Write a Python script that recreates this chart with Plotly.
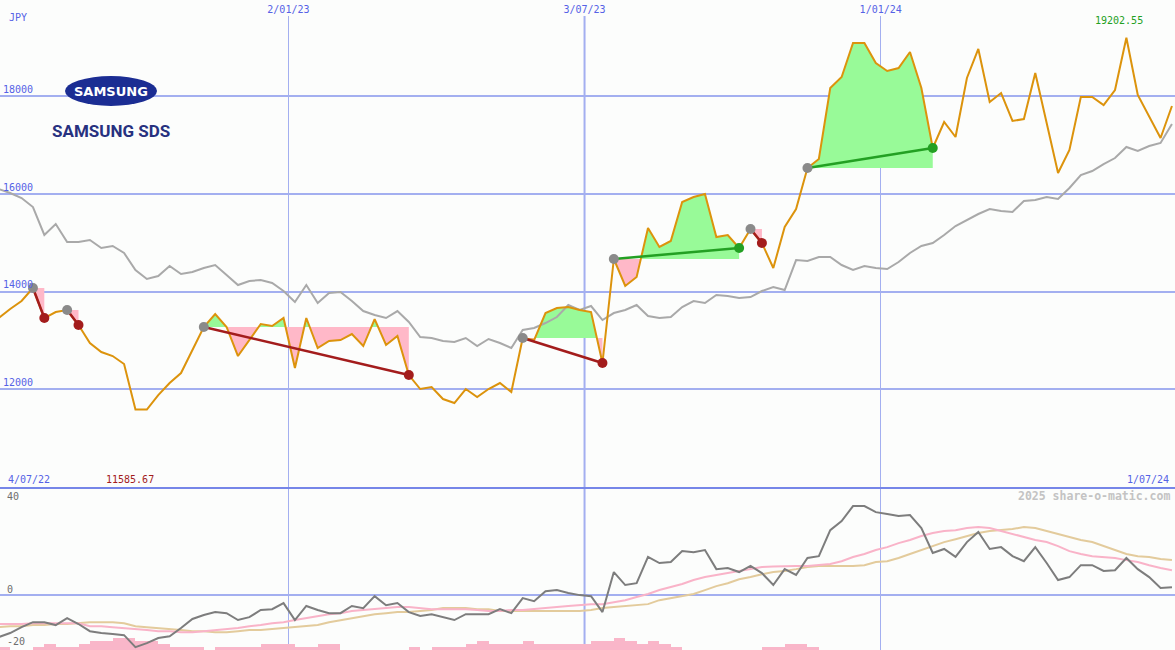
import pandas as pd
import plotly.graph_objects as go

W, H = 1175, 650

# ---------------- data ----------------
dates = pd.date_range("2022-07-08", periods=104, freq="7D")

price = [
    13461, 13645, 13809, 14076, 13461, 13584, 13625, 13318, 12949, 12764,
    12682, 12518, 11585.67, 11585.67, 11883, 12129, 12334, 12805, 13277, 13543,
    13277, 12682, 13010, 13338, 13297, 13461, 12436, 13461, 12846, 12990,
    13010, 13133, 12887, 13440, 12908, 13092, 12293, 12006, 12047, 11801,
    11719, 12006, 11842, 12006, 12129, 11945, 13051, 13010, 13563, 13666,
    13686, 13625, 13584, 12539, 14670, 14117, 14301, 15305, 14916, 15039,
    15838, 15940, 16002, 15121, 15162, 14895, 15285, 14998, 14485, 15326,
    15694, 16534, 16719, 18174, 18399, 19096, 19096, 18686, 18522, 18583,
    18911, 18174, 16944, 17477, 17170, 18379, 18973, 17887, 18071, 17498,
    17538, 18481, 17456, 16432, 16903, 17989, 17989, 17825, 18133, 19202.55,
    18030, 17580, 17149, 17805,
]

benchmark = [
    16104, 16022, 15920, 15735, 15162, 15387, 15018, 15018, 15059, 14895,
    14936, 14793, 14444, 14260, 14322, 14526, 14362, 14403, 14485, 14547,
    14342, 14137, 14219, 14240, 14178, 14014, 13789, 14137, 13768, 13973,
    13994, 13809, 13604, 13522, 13461, 13604, 13379, 13072, 13051, 12990,
    12969, 13051, 12887, 13031, 12949, 12846, 13215, 13256, 13358, 13481,
    13727, 13625, 13707, 13420, 13563, 13625, 13727, 13502, 13461, 13481,
    13686, 13809, 13768, 13932, 13912, 13871, 13891, 14014, 14096, 14035,
    14649, 14629, 14711, 14711, 14547, 14444, 14526, 14485, 14465, 14608,
    14793, 14936, 14998, 15162, 15346, 15469, 15592, 15694, 15653, 15633,
    15858, 15879, 15940, 15899, 16125, 16391, 16473, 16616, 16739, 16965,
    16883, 16985, 17047, 17436,
]

momentum = [
    -16.0, -14.5, -12.3, -10.4, -10.4, -11.5, -8.9, -11.1, -13.8, -14.5,
    -14.9, -15.3, -19.8, -18.3, -16.4, -15.7, -12.6, -9.2, -7.7, -6.6,
    -7.0, -9.6, -8.5, -5.8, -5.5, -3.2, -9.6, -4.3, -5.8, -7.0,
    -7.0, -4.3, -5.1, -0.6, -4.0, -3.2, -6.6, -8.1, -7.4, -8.5,
    -9.6, -7.4, -7.4, -7.4, -5.5, -7.0, -1.3, -2.5, 1.3, 1.7,
    0.6, -0.2, -0.6, -6.6, 8.5, 3.6, 4.3, 14.2, 11.9, 12.3,
    16.4, 16.0, 16.8, 9.6, 10.0, 8.5, 10.8, 8.1, 3.6, 9.6,
    7.4, 13.8, 14.5, 24.3, 27.7, 33.4, 33.4, 31.1, 30.4, 29.6,
    30.0, 25.1, 15.7, 17.2, 14.2, 19.8, 23.6, 17.2, 17.9, 14.5,
    12.6, 17.9, 11.9, 5.5, 6.6, 11.1, 11.1, 8.9, 9.2, 13.8,
    9.6, 6.6, 2.5, 2.8,
]

avg_fast = [
    -11.1, -11.1, -11.1, -10.8, -10.8, -10.8, -10.8, -10.8, -11.9, -11.9,
    -12.3, -12.6, -13.0, -13.4, -13.8, -13.8, -14.2, -14.2, -13.8, -13.4,
    -13.0, -12.6, -11.9, -11.5, -10.8, -10.4, -9.6, -8.9, -8.1, -7.4,
    -7.0, -6.2, -5.8, -5.5, -5.1, -4.7, -4.7, -5.1, -5.5, -5.5,
    -5.5, -5.5, -5.8, -6.2, -6.2, -5.8, -5.8, -5.5, -5.1, -4.7,
    -4.3, -4.0, -3.6, -3.6, -2.8, -2.1, -0.9, 0.2, 1.7, 2.8,
    4.0, 5.5, 6.6, 7.4, 8.1, 8.9, 9.6, 10.4, 10.6, 10.8,
    10.8, 10.8, 11.1, 11.5, 12.6, 14.2, 15.3, 16.8, 17.9, 19.4,
    20.6, 22.1, 23.2, 24.0, 24.3, 25.1, 25.5, 25.1, 24.0, 22.8,
    21.7, 20.6, 19.8, 18.3, 16.4, 15.3, 14.5, 14.2, 13.8, 13.0,
    12.3, 11.1, 10.0, 9.2,
]

avg_slow = [
    -12.3, -11.9, -11.9, -11.5, -11.5, -11.1, -11.1, -10.8, -10.4, -10.4,
    -10.4, -10.8, -11.9, -12.3, -12.6, -13.0, -13.4, -13.8, -13.8, -14.2,
    -14.2, -13.8, -13.4, -13.4, -13.0, -12.6, -12.3, -11.9, -11.5, -10.4,
    -9.6, -8.9, -8.1, -7.4, -7.0, -6.6, -6.6, -6.2, -5.8, -5.1,
    -5.1, -5.1, -5.5, -5.5, -6.2, -6.2, -6.2, -6.2, -6.2, -6.2,
    -6.2, -6.2, -5.8, -5.1, -4.7, -4.3, -4.0, -3.6, -2.1, -1.3,
    -0.6, 0.2, 1.7, 3.2, 4.3, 5.8, 6.6, 7.7, 8.5, 8.9,
    9.6, 10.4, 10.8, 10.8, 10.8, 10.8, 11.1, 12.3, 12.6, 13.8,
    15.3, 16.8, 18.3, 19.8, 20.9, 22.1, 23.2, 24.0, 24.3, 24.7,
    25.5, 25.1, 24.0, 22.8, 21.7, 20.6, 19.8, 18.3, 16.8, 15.3,
    14.5, 14.2, 13.4, 13.0,
]

volume_bars = [
    1.1, 0, 0, 1.1, 2.3, 1.1, 1.1, 2.3, 3.4, 3.4,
    4.5, 4.5, 3.4, 3.4, 2.3, 1.1, 1.1, 1.1, 0, 1.1,
    1.1, 1.1, 1.1, 2.3, 2.3, 2.3, 1.1, 1.1, 2.3, 2.3,
    0, 0, 0, 0, 0, 0, 1.1, 0, 1.1, 1.1,
    1.1, 2.3, 3.4, 2.3, 2.3, 2.3, 3.4, 2.3, 2.3, 2.3,
    2.3, 2.3, 3.4, 3.4, 4.5, 3.4, 2.3, 3.4, 2.3, 1.1,
    0, 0, 0, 0, 0, 0, 0, 1.1, 1.1, 2.3,
    2.3, 1.1, 0, 0, 0, 0, 0, 0, 0, 0,
    0, 0, 0, 0, 0, 0, 0, 0, 0, 0,
    0, 0, 0, 0, 0, 0, 0, 0, 0, 0,
    0, 0, 0, 0,
]

signal_start = [3, 6, 18, 46, 54, 66, 71]
signal_end = [4, 7, 36, 53, 65, 67, 82]

price_ticks = [12000, 14000, 16000, 18000]
date_ticks = ["2023-01-02", "2023-07-03", "2024-01-01"]
date_tick_text = ["2/01/23", "3/07/23", "1/01/24"]
edge_date_labels = ["4/07/22", "1/07/24"]
osc_labels = [40, 0, -20]

# ---------------- styles ----------------
BG = "#fcfdfc"
GRID = "#a3aff0"
BLUE = "#5562e6"
MONO = "DejaVu Sans Mono"
ORANGE = "#dc930c"
GREY_LINE = "#a9a9a9"
GREEN_FILL = "#98fa98"
PINK_FILL = "#ffb8c8"
LOSS = "#a31c1c"
GAIN = "#23a023"

MAIN_TOP, MAIN_BOT = 16, 488   # pixel rows
MAIN_RANGE = [9978, 19649]
OSC_RANGE = [-20.9, 40.2]
X_RANGE = ["2022-07-08 18:00", "2024-06-29 21:00"]


def px(v):
    return v / W


def py(v):
    return 1 - v / H


fig = go.Figure()

# ---- gain / loss areas relative to entry level ----
for s, e in zip(signal_start, signal_end):
    lvl = price[s]
    xs, ys = [], []
    for i in range(s, e + 1):
        if i > s:
            a, b = price[i - 1] - lvl, price[i] - lvl
            if a * b < 0:
                f = a / (a - b)
                xs.append(dates[i - 1] + (dates[i] - dates[i - 1]) * f)
                ys.append(lvl)
        xs.append(dates[i])
        ys.append(price[i])
    up = [max(v, lvl) for v in ys]
    dn = [min(v, lvl) for v in ys]
    for arr, col in ((up, GREEN_FILL), (dn, PINK_FILL)):
        fig.add_trace(go.Scatter(x=xs, y=[lvl] * len(xs), mode="lines",
                                 line=dict(width=0), hoverinfo="skip",
                                 showlegend=False))
        fig.add_trace(go.Scatter(x=xs, y=arr, mode="lines", fill="tonexty",
                                 fillcolor=col, line=dict(width=0),
                                 hoverinfo="skip", showlegend=False))

# ---- benchmark & price ----
fig.add_trace(go.Scatter(x=dates, y=benchmark, mode="lines",
                         line=dict(color=GREY_LINE, width=2), showlegend=False))
fig.add_trace(go.Scatter(x=dates, y=price, mode="lines",
                         line=dict(color=ORANGE, width=2), showlegend=False))

# ---- trade lines and dots ----
for s, e in zip(signal_start, signal_end):
    col = GAIN if price[e] > price[s] else LOSS
    fig.add_trace(go.Scatter(x=[dates[s], dates[e]], y=[price[s], price[e]],
                             mode="lines", line=dict(color=col, width=2.5),
                             showlegend=False))
fig.add_trace(go.Scatter(x=[dates[s] for s in signal_start],
                         y=[price[s] for s in signal_start], mode="markers",
                         marker=dict(color="#8a8a8a", size=10), showlegend=False))
fig.add_trace(go.Scatter(x=[dates[e] for e in signal_end],
                         y=[price[e] for e in signal_end], mode="markers",
                         marker=dict(color=[GAIN if price[e] > price[s] else LOSS
                                            for s, e in zip(signal_start, signal_end)],
                                     size=10), showlegend=False))

# ---- lower panel ----
fig.add_trace(go.Bar(x=dates + pd.Timedelta(days=3.5), y=volume_bars,
                     base=OSC_RANGE[0], width=7 * 86400000,
                     marker=dict(color="#f9b6c9", line=dict(width=0)),
                     xaxis="x2", yaxis="y2", showlegend=False))
fig.add_trace(go.Scatter(x=dates, y=avg_slow, mode="lines",
                         line=dict(color="#e3cb9c", width=2),
                         xaxis="x2", yaxis="y2", showlegend=False))
fig.add_trace(go.Scatter(x=dates, y=avg_fast, mode="lines",
                         line=dict(color="#f9b3c8", width=2),
                         xaxis="x2", yaxis="y2", showlegend=False))
fig.add_trace(go.Scatter(x=dates, y=momentum, mode="lines",
                         line=dict(color="#7d7d7d", width=2),
                         xaxis="x2", yaxis="y2", showlegend=False))

# ---------------- layout ----------------
main_dom = [py(MAIN_BOT), py(MAIN_TOP)]
osc_dom = [0, py(MAIN_BOT)]

shapes = [
    # thicker mid-year grid line
    dict(type="line", xref="x", yref="paper", x0=date_ticks[1], x1=date_ticks[1],
         y0=0, y1=py(MAIN_TOP), line=dict(color=GRID, width=2), layer="below"),
    # cover grid behind logo
    dict(type="rect", xref="paper", yref="paper", x0=px(35), x1=px(186),
         y0=py(112), y1=py(70), fillcolor=BG, line=dict(width=0), layer="between"),
    # logo ellipse
    dict(type="circle", xref="paper", yref="paper", x0=px(65), x1=px(157),
         y0=py(106), y1=py(76), fillcolor="#1b2d93", line=dict(width=0),
         layer="above"),
    # panel divider
    dict(type="line", xref="paper", yref="paper", x0=0, x1=1,
         y0=py(MAIN_BOT), y1=py(MAIN_BOT), line=dict(color="#7686e8", width=2),
         layer="above"),
]


def note(text, x, y, color, xanchor="left", size=10, family=MONO):
    return dict(text=text, xref="paper", yref="paper", x=px(x), y=py(y),
                xanchor=xanchor, yanchor="middle", showarrow=False,
                font=dict(family=family, size=size, color=color))


annotations = [
    note("JPY", 7, 17, BLUE),
    note(f"{max(price):.2f}", 1119, 20, GAIN, xanchor="center"),
    note(edge_date_labels[0], 6, 479, BLUE),
    note(f"{min(price):.2f}", 104, 479, LOSS),
    note(edge_date_labels[1], 1171, 479, BLUE, xanchor="right"),
    note("<b>2025 share-o-matic.com</b>", 1172, 496, "#c3c3c3",
         xanchor="right", size=11.5),
    note(str(osc_labels[0]), 5, 496, "#6e6e6e"),
    note(str(osc_labels[1]), 5, 589, "#6e6e6e"),
    note(str(osc_labels[2]), 5, 641, "#6e6e6e"),
    note("<b>SAMSUNG</b>", 111, 92, "white", xanchor="center", size=13,
         family="DejaVu Sans"),
    note("<b>SAMSUNG SDS</b>", 111, 131, "#27317f", xanchor="center", size=17,
         family="Roboto"),
]

fig.update_layout(
    width=W, height=H,
    margin=dict(l=0, r=0, t=0, b=0, pad=0, autoexpand=False),
    paper_bgcolor=BG, plot_bgcolor=BG,
    showlegend=False, bargap=0,
    xaxis=dict(type="date", range=X_RANGE, domain=[0, 1], anchor="y",
               side="top", tickvals=date_ticks, ticktext=date_tick_text,
               ticks="", showgrid=True, gridcolor=GRID, gridwidth=1,
               zeroline=False, showline=False, automargin=False,
               tickfont=dict(family=MONO, size=10, color=BLUE)),
    yaxis=dict(range=MAIN_RANGE, domain=main_dom, anchor="x",
               tickvals=price_ticks, ticktext=[str(v) for v in price_ticks],
               ticklabelposition="inside top", ticks="", showgrid=True,
               gridcolor=GRID, gridwidth=2, zeroline=False, showline=False,
               automargin=False, tickfont=dict(family=MONO, size=10, color=BLUE)),
    xaxis2=dict(type="date", range=X_RANGE, domain=[0, 1], anchor="y2",
                matches="x", tickvals=date_ticks, showticklabels=False,
                ticks="", showgrid=True, gridcolor=GRID, gridwidth=1,
                zeroline=False, showline=False, automargin=False),
    yaxis2=dict(range=OSC_RANGE, domain=osc_dom, anchor="x2", tickvals=[0],
                showticklabels=False, ticks="", showgrid=True, gridcolor=GRID,
                gridwidth=2, zeroline=False, showline=False, automargin=False),
    shapes=shapes,
    annotations=annotations,
)

fig.write_html(
    "out.html",
    config={"displayModeBar": False},
    post_script="document.body.style.margin='0';document.body.style.overflow='hidden';",
)
